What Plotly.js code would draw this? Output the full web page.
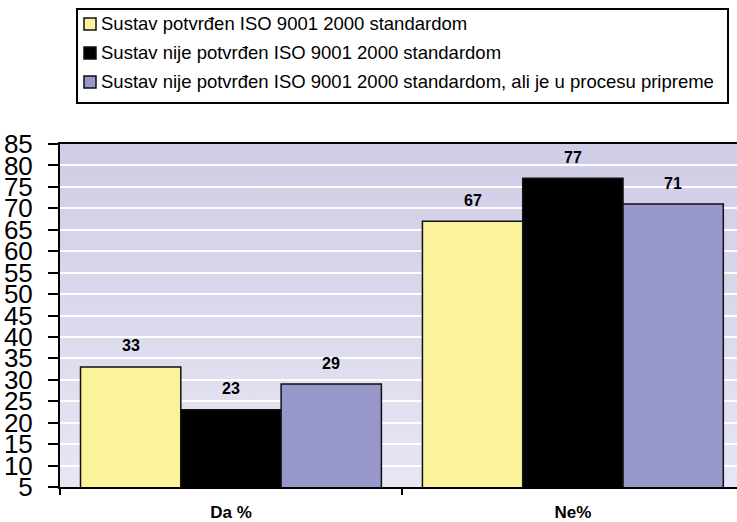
<!DOCTYPE html>
<html>
<head>
<meta charset="utf-8">
<script src="https://cdn.plot.ly/plotly-3.0.1.min.js"></script>
<style>html,body{margin:0;padding:0;background:#fff;}#chart{width:737px;height:522px;}</style>
</head>
<body>
<div id="chart"></div>
<script>
const categories = ['Da %', 'Ne%'];
const seriesNames = [
  'Sustav potvrđen ISO 9001 2000 standardom',
  'Sustav nije potvrđen ISO 9001 2000 standardom',
  'Sustav nije potvrđen ISO 9001 2000 standardom, ali je u procesu pripreme'
];
const confirmed = [33, 67];
const notConfirmed = [23, 77];
const inPreparation = [29, 71];
const yTicks = [5, 10, 15, 20, 25, 30, 35, 40, 45, 50, 55, 60, 65, 70, 75, 80, 85];

const colors = ['#faf39b', '#000000', '#9797c9'];
const seriesValues = [confirmed, notConfirmed, inPreparation];
const bargap = 0.12;
const FONT = 'Liberation Sans, Arial, sans-serif';

// plot area geometry (pixels)
const W = 737, H = 522, ML = 60, MR = 0, MT = 144, MB = 35;
const PW = W - ML - MR, PH = H - MT - MB;
const px = x => (x - ML) / PW;
const py = y => (H - MB - y) / PH;

const traces = seriesValues.map((vals, j) => ({
  type: 'bar',
  name: seriesNames[j],
  x: categories,
  y: vals,
  marker: {color: colors[j], line: {color: '#111', width: 1.5}},
  hoverinfo: 'y',
  showlegend: false
}));

const bw = (1 - bargap) / seriesValues.length;
const annotations = [];
seriesValues.forEach((vals, j) => {
  vals.forEach((v, i) => {
    annotations.push({
      x: i + (j - 1) * bw, y: v, xref: 'x', yref: 'y',
      text: String(v), showarrow: false, yanchor: 'middle', yshift: 21,
      font: {family: FONT, size: 16, color: '#000', weight: 'bold'}
    });
  });
});

// custom legend (box, swatches, labels)
const shapes = [];
const legLeft = 77, legRight = 728, legTop = 9, legBottom = 103;
const rowY = [24, 53, 82];
shapes.push({type: 'rect', xref: 'paper', yref: 'paper',
  x0: px(legLeft), x1: px(legRight), y0: py(legTop), y1: py(legBottom),
  line: {color: '#000', width: 2}, fillcolor: '#fff'});
seriesNames.forEach((name, j) => {
  shapes.push({type: 'rect', xref: 'paper', yref: 'paper',
    x0: px(84), x1: px(96), y0: py(rowY[j] - 6), y1: py(rowY[j] + 6),
    line: {color: '#111', width: 1.5}, fillcolor: colors[j]});
  annotations.push({xref: 'paper', yref: 'paper', x: px(99), y: py(rowY[j]),
    xanchor: 'left', yanchor: 'middle', text: name, showarrow: false,
    font: {family: FONT, size: 18.5, color: '#000'}});
});

const gradSvg = '<svg xmlns="http://www.w3.org/2000/svg" width="10" height="100" preserveAspectRatio="none">' +
  '<defs><linearGradient id="g" x1="0" y1="0" x2="0" y2="1">' +
  '<stop offset="0" stop-color="#cfcce6"/><stop offset="1" stop-color="#e7e6f4"/></linearGradient></defs>' +
  '<rect width="10" height="100" fill="url(#g)"/></svg>';
const gradUri = 'data:image/svg+xml;base64,' + btoa(gradSvg);

const layout = {
  width: W, height: H,
  margin: {l: ML, r: MR, t: MT, b: MB, pad: 0},
  paper_bgcolor: '#ffffff',
  plot_bgcolor: 'rgba(0,0,0,0)',
  barmode: 'group',
  bargap: bargap,
  bargroupgap: 0,
  font: {family: FONT, color: '#000'},
  images: [{source: gradUri, xref: 'paper', yref: 'paper', x: 0, y: 1, sizex: 1, sizey: 1,
            xanchor: 'left', yanchor: 'top', sizing: 'stretch', layer: 'below'}],
  xaxis: {
    type: 'category',
    range: [-0.5, 1.48],
    showline: true, linecolor: '#000', linewidth: 2, mirror: true,
    ticks: 'outside', ticklen: 6, tickwidth: 2, tickcolor: '#000',
    tickson: 'boundaries',
    showgrid: false,
    ticklabelstandoff: 9,
    tickfont: {size: 17, weight: 'bold', family: FONT}
  },
  yaxis: {
    range: [5, 85],
    tickmode: 'array', tickvals: yTicks, ticktext: yTicks.map(String),
    showline: true, linecolor: '#000', linewidth: 2,
    ticks: 'outside', ticklen: 10, tickwidth: 2, tickcolor: '#000',
    showgrid: true, gridcolor: '#ffffff', gridwidth: 2,
    zeroline: false,
    ticklabelstandoff: 10,
    tickfont: {size: 26, family: FONT}
  },
  showlegend: false,
  shapes: shapes,
  annotations: annotations
};

Plotly.newPlot('chart', traces, layout, {displayModeBar: false, staticPlot: true});
</script>
</body>
</html>
